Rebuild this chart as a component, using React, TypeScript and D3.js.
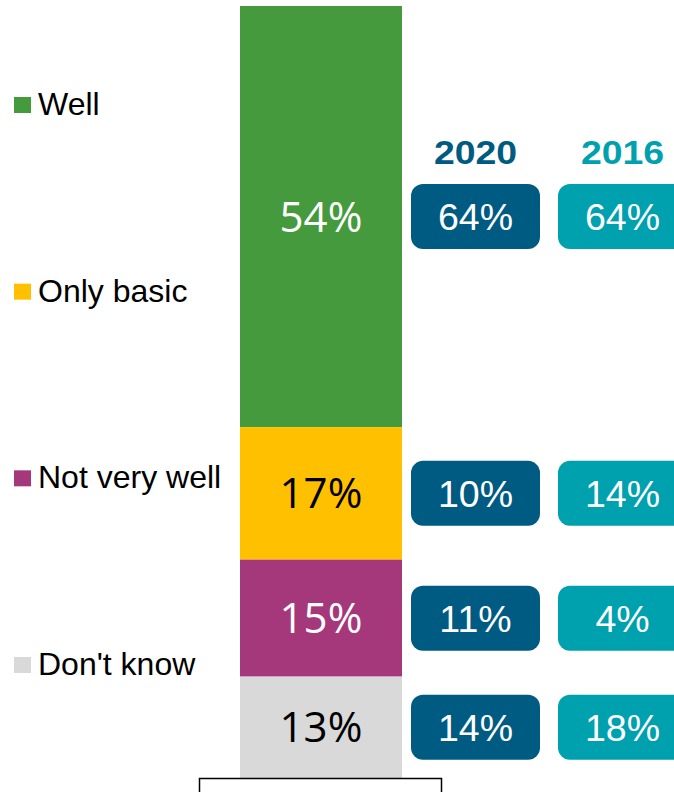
import React from "react";
import * as d3 from "d3";

const categories = ["Well", "Only basic", "Not very well", "Don't know"];
const currentValues = [54, 17, 15, 13];
const values2020 = [64, 10, 11, 14];
const values2016 = [64, 14, 4, 18];
const years = ["2020", "2016"];
const segmentColors = ["#449A3D", "#FFC000", "#A5387B", "#D9D9D9"];
const segmentTextColors = ["#FFFFFF", "#000000", "#FFFFFF", "#000000"];
const yearColors = ["#005B82", "#00A1AF"];

const W = 674;
const H = 792;

export default function App() {
  const total = d3.sum(currentValues);
  const y = d3.scaleLinear().domain([0, total]).range([778, 6]);
  const barX0 = 240;
  const barX1 = 402;
  const cum = d3.cumsum(currentValues);
  const segs = currentValues.map((v, i) => {
    const start = i === 0 ? 0 : cum[i - 1];
    const end = cum[i];
    const top = y(total - start);
    const bottom = y(total - end);
    return { v, i, top, bottom, mid: (top + bottom) / 2 };
  });

  const xYear = d3
    .scaleBand<string>()
    .domain(years)
    .range([411, 687])
    .paddingInner(0.1224)
    .paddingOuter(0);
  const boxH = 65;
  const yearSeries = [values2020, values2016];

  const legendY = d3
    .scalePoint<string>()
    .domain(categories)
    .range([105, 665]);

  return (
    <svg
      width={W}
      height={H}
      style={{ position: "absolute", left: 0, top: 0, background: "#fff" }}
    >
      {/* legend */}
      {categories.map((c, i) => (
        <g key={c}>
          <rect
            x={14}
            y={(legendY(c) as number) - 8}
            width={17}
            height={16}
            fill={segmentColors[i]}
          />
          <text
            x={38}
            y={(legendY(c) as number) + 10}
            fontFamily="'Liberation Sans', Arial, sans-serif"
            fontSize={32}
            fill="#000"
          >
            {c}
          </text>
        </g>
      ))}

      {/* stacked bar */}
      {segs.map((s) => (
        <g key={s.i}>
          <rect
            x={barX0}
            y={s.top}
            width={barX1 - barX0}
            height={s.bottom - s.top}
            fill={segmentColors[s.i]}
          />
          <text
            x={(barX0 + barX1) / 2}
            y={s.mid + 15}
            textAnchor="middle"
            fontFamily="'Open Sans', sans-serif"
            fontSize={42}
            fill={segmentTextColors[s.i]}
          >
            {s.v}%
          </text>
        </g>
      ))}

      {/* axis label box */}
      <rect
        x={199.5}
        y={778.5}
        width={242}
        height={30}
        fill="#fff"
        stroke="#000"
        strokeWidth={1.5}
      />

      {/* year headers */}
      {years.map((yr, j) => {
        const cx = (xYear(yr) as number) + xYear.bandwidth() / 2;
        return (
          <text
            key={yr}
            transform={`translate(${cx},164) scale(1.1,1)`}
            textAnchor="middle"
            fontFamily="'Liberation Sans', Arial, sans-serif"
            fontWeight="bold"
            fontSize={34}
            fill={yearColors[j]}
          >
            {yr}
          </text>
        );
      })}

      {/* year boxes */}
      {years.map((yr, j) =>
        yearSeries[j].map((v, i) => {
          const mid = segs[i].mid;
          const bx = xYear(yr) as number;
          return (
            <g key={yr + i}>
              <rect
                x={bx}
                y={mid - boxH / 2}
                width={xYear.bandwidth()}
                height={boxH}
                rx={12}
                ry={12}
                fill={yearColors[j]}
              />
              <text
                x={bx + xYear.bandwidth() / 2}
                y={mid + 13.5}
                textAnchor="middle"
                fontFamily="'Liberation Sans', Arial, sans-serif"
                fontSize={37.5}
                fill="#fff"
              >
                {v}%
              </text>
            </g>
          );
        })
      )}
    </svg>
  );
}
